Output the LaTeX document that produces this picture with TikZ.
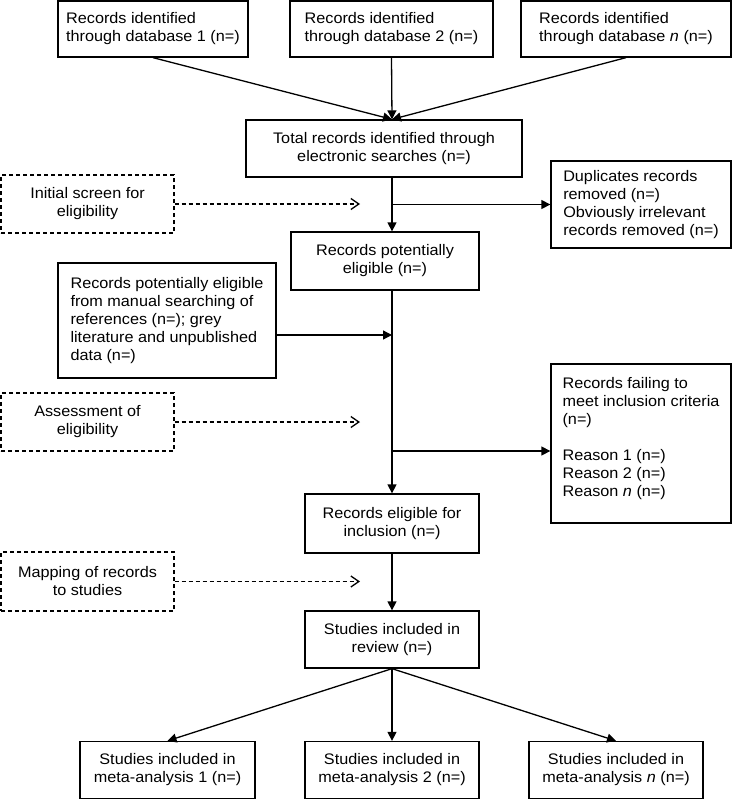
\documentclass[tikz,border=0pt]{standalone}
\usepackage{fontspec}
\setmainfont{Liberation Sans}[FakeStretch=1.06]
\usetikzlibrary{positioning,arrows.meta}
\tikzset{>=latex}

\begin{document}
\begin{tikzpicture}[x=1pt, y=-1pt, >={Triangle[length=9pt,width=9pt]},
    line width=1.3pt, font=\fontsize{15.3}{18}\selectfont,
    box/.style={rectangle, draw=black, inner sep=0pt, align=center},
    lbox/.style={box, align=left},
    dbox/.style={box, dash pattern=on 4pt off 3pt},
    dashline/.style={dash pattern=on 4pt off 3pt, -{Straight Barb[length=8pt,width=11pt]}}]
    \useasboundingbox (0,0) rectangle (733,800);

    \node [lbox, minimum width=190pt, minimum height=56pt] (db_1) at (153,29) {Records identified\\through database 1 (n=)};
    \node [lbox, minimum width=203pt, minimum height=56pt] (db_2) at (391.5,29) {Records identified\\through database 2 (n=)};
    \node [lbox, minimum width=210pt, minimum height=56pt] (db_n) at (626,29) {Records identified\\through database \textit{n} (n=)};

    \node [box, minimum width=276pt, minimum height=57pt] (total) at (384,148.5) {Total records identified through\\electronic searches (n=)};
    \node [lbox, minimum width=180pt, minimum height=87pt] (dup) at (641,204.5) {Duplicates records\\removed (n=)\\Obviously irrelevant\\records removed (n=)};
    \node [dbox, minimum width=173pt, minimum height=58pt] (screen) at (87.5,204) {Initial screen for\\eligibility};

    \node [box, minimum width=188pt, minimum height=58pt] (potential) at (385,261) {Records potentially\\eligible (n=)};
    \node [lbox, minimum width=218pt, minimum height=115pt] (manual) at (167,320.5) {Records potentially eligible\\from manual searching of\\references (n=); grey\\literature and unpublished\\data (n=)};

    \node [dbox, minimum width=173pt, minimum height=58pt] (assess) at (87.5,422) {Assessment of\\eligibility};
    \node [lbox, minimum width=180pt, minimum height=159pt] (failing) at (641,443.5) {Records failing to\\meet inclusion criteria\\(n=)\\[18pt]Reason 1 (n=)\\Reason 2 (n=)\\Reason \textit{n} (n=)\\[-4pt]\mbox{}};

    \node [box, minimum width=174pt, minimum height=59pt] (eligible) at (392,523.5) {Records eligible for\\inclusion (n=)};
    \node [dbox, minimum width=173pt, minimum height=59pt] (mapping) at (87.5,581.5) {Mapping of records\\to studies};
    \node [box, minimum width=174pt, minimum height=57pt] (review) at (392,639.5) {Studies included in\\review (n=)};

    \node [box, minimum width=175pt, minimum height=57pt] (meta_1) at (167.5,770) {Studies included in\\meta-analysis 1 (n=)};
    \node [box, minimum width=174pt, minimum height=57pt] (meta_2) at (392,770) {Studies included in\\meta-analysis 2 (n=)};
    \node [box, minimum width=174pt, minimum height=57pt] (meta_n) at (616,770) {Studies included in\\meta-analysis \textit{n} (n=)};

    \coordinate (trunk) at (392,0);
    \coordinate (gap) at (360,0);
    \coordinate (cut_1) at (trunk |- dup.west);
    \coordinate (cut_2) at (392,451);
    \coordinate (manual_in) at (392,335);

    \draw [->] (db_1.south) -- (total.north -| trunk);
    \draw [->] (db_2.south) -- (total.north -| trunk);
    \draw [->] (db_n.south) -- (total.north -| trunk);

    \draw [->] (total.south -| trunk) -- (trunk |- potential.north);
    \draw [->] (cut_1) -- (dup.west);
    \draw [->] (manual.east |- manual_in) -- (manual_in);
    \draw [->] (trunk |- potential.south) -- (eligible.north);
    \draw [->] (cut_2) -- (failing.west |- cut_2);
    \draw [->] (eligible.south) -- (review.north);

    \draw [->] (review.south) -- (meta_1.north);
    \draw [->] (review.south) -- (meta_2.north);
    \draw [->] (review.south) -- (meta_n.north);

    \draw [dashline] (screen.east) -- (screen.east -| gap);
    \draw [dashline] (assess.east) -- (assess.east -| gap);
    \draw [dashline] (mapping.east) -- (mapping.east -| gap);

\end{tikzpicture}
\end{document}
